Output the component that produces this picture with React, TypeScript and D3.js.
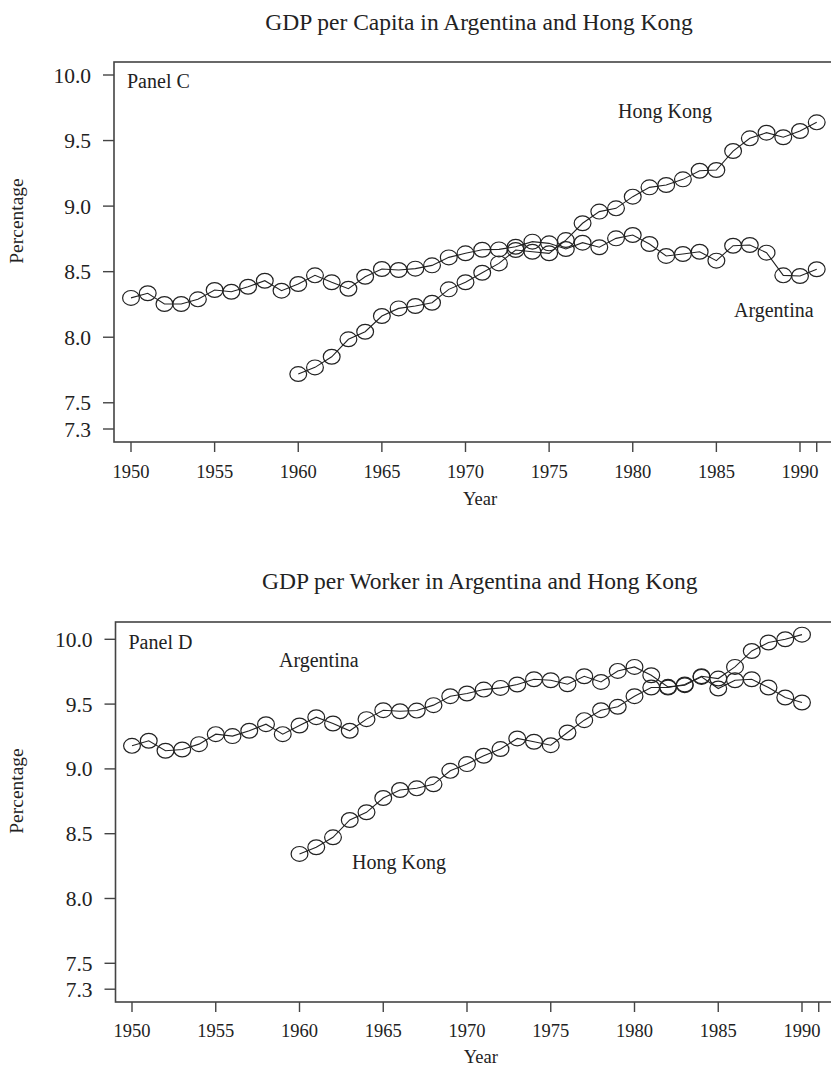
import React from "react";
import * as d3 from "d3";

// ---------- DATA ----------
const TITLE_C = "GDP per Capita in Argentina and Hong Kong";
const TITLE_D = "GDP per Worker in Argentina and Hong Kong";

const ARG_START = 1950;
const HK_START = 1960;

// Panel C: log GDP per capita
const argCapita = [
  8.30, 8.335, 8.253, 8.253, 8.289, 8.36, 8.347, 8.385, 8.431, 8.355,
  8.406, 8.472, 8.419, 8.37, 8.461, 8.52, 8.513, 8.523, 8.548, 8.609,
  8.64, 8.667, 8.67, 8.69, 8.729, 8.716, 8.673, 8.721, 8.686, 8.754,
  8.78, 8.711, 8.62, 8.635, 8.652, 8.584, 8.698, 8.703, 8.645, 8.472,
  8.467, 8.518,
];
const hkCapita = [
  7.719, 7.77, 7.851, 7.984, 8.042, 8.162, 8.22, 8.238, 8.263, 8.365,
  8.419, 8.492, 8.563, 8.665, 8.652, 8.64, 8.741, 8.869, 8.958, 8.983,
  9.072, 9.143, 9.161, 9.204, 9.27, 9.275, 9.42, 9.517, 9.56, 9.525,
  9.573, 9.639,
];

// Panel D: log GDP per worker
const argWorker = [
  9.178, 9.217, 9.14, 9.15, 9.191, 9.268, 9.253, 9.294, 9.345, 9.268,
  9.335, 9.399, 9.35, 9.294, 9.384, 9.453, 9.445, 9.45, 9.492, 9.561,
  9.582, 9.612, 9.625, 9.651, 9.692, 9.684, 9.653, 9.715, 9.671, 9.756,
  9.787, 9.723, 9.633, 9.646, 9.71, 9.62, 9.684, 9.692, 9.628, 9.551,
  9.512,
];
const hkWorker = [
  8.344, 8.395, 8.472, 8.606, 8.665, 8.775, 8.837, 8.85, 8.881, 8.985,
  9.037, 9.101, 9.153, 9.235, 9.209, 9.183, 9.281, 9.376, 9.453, 9.479,
  9.561, 9.628, 9.628, 9.651, 9.715, 9.697, 9.787, 9.91, 9.975, 10.0,
  10.036,
];

const xTicks = [1950, 1955, 1960, 1965, 1970, 1975, 1980, 1985, 1990, 1991];
const xTickLabels = ["1950", "1955", "1960", "1965", "1970", "1975", "1980", "1985", "1990", ""];
const yTicks = [7.3, 7.5, 8.0, 8.5, 9.0, 9.5, 10.0];
const yTickLabels = ["7.3", "7.5", "8.0", "8.5", "9.0", "9.5", "10.0"];

const FONT = "'Liberation Serif', 'Times New Roman', serif";
const INK = "#222";

type Label = { text: string; x: number; y: number };

type PanelProps = {
  title: string;
  titleY: number;
  box: { left: number; top: number; right: number; bottom: number };
  xRange: [number, number];
  yRange: [number, number];
  series: { start: number; values: number[] }[];
  panelLabel: Label;
  labels: Label[];
  percentageY: number;
  tickLabelDy: number;
  yearY: number;
};

function Panel(p: PanelProps) {
  const x = d3.scaleLinear().domain([1950, 1990]).range(p.xRange);
  const y = d3.scaleLinear().domain([7.3, 10]).range(p.yRange);
  const line = d3
    .line<[number, number]>()
    .x((d) => x(d[0]))
    .y((d) => y(d[1]));
  const { left, top, right, bottom } = p.box;
  const cx = (left + right) / 2;
  return (
    <g>
      <text x={cx - 1} y={p.titleY} textAnchor="middle" fontSize={23.5} fill={INK} fontFamily={FONT}>
        {p.title}
      </text>
      <rect x={left} y={top} width={right - left} height={bottom - top} fill="none" stroke="#444" strokeWidth={1.6} />
      {yTicks.map((t, i) => (
        <g key={"y" + i}>
          <line x1={left - 11} x2={left} y1={y(t)} y2={y(t)} stroke="#444" strokeWidth={1.4} />
          <text x={left - 23} y={y(t)} dy="0.35em" textAnchor="end" fontSize={21.5} fill={INK} fontFamily={FONT}>
            {yTickLabels[i]}
          </text>
        </g>
      ))}
      {xTicks.map((t, i) => (
        <g key={"x" + i}>
          <line x1={x(t)} x2={x(t)} y1={bottom} y2={bottom + 10} stroke="#444" strokeWidth={1.4} />
          {xTickLabels[i] && (
            <text x={x(t)} y={bottom + p.tickLabelDy} textAnchor="middle" fontSize={18.5} fill={INK} fontFamily={FONT}>
              {xTickLabels[i]}
            </text>
          )}
        </g>
      ))}
      <text x={cx} y={p.yearY} textAnchor="middle" fontSize={18.5} fill={INK} fontFamily={FONT}>
        Year
      </text>
      <text
        transform={`translate(23,${p.percentageY}) rotate(-90)`}
        textAnchor="middle"
        fontSize={19.5}
        fill={INK}
        fontFamily={FONT}
      >
        Percentage
      </text>
      {p.series.map((s, si) => {
        const pts: [number, number][] = s.values.map((v, i) => [s.start + i, v]);
        return (
          <g key={"s" + si}>
            <path d={line(pts) || ""} fill="none" stroke={INK} strokeWidth={1.1} />
            {pts.map((d, i) => (
              <ellipse key={i} cx={x(d[0])} cy={y(d[1])} rx={8.4} ry={7.4} fill="none" stroke={INK} strokeWidth={1.2} />
            ))}
          </g>
        );
      })}
      <text x={p.panelLabel.x} y={p.panelLabel.y} fontSize={20} fill={INK} fontFamily={FONT}>
        {p.panelLabel.text}
      </text>
      {p.labels.map((l, i) => (
        <text key={"l" + i} x={l.x} y={l.y} fontSize={20} fill={INK} fontFamily={FONT}>
          {l.text}
        </text>
      ))}
    </g>
  );
}

export default function App() {
  return (
    <svg
      width={831}
      height={1066}
      style={{ position: "absolute", left: 0, top: 0, background: "#fff" }}
    >
      <rect x={0} y={0} width={831} height={1066} fill="#fff" />
      <Panel
        title={TITLE_C}
        titleY={30}
        box={{ left: 114, top: 62, right: 846, bottom: 442 }}
        xRange={[131, 800]}
        yRange={[429, 75]}
        series={[
          { start: ARG_START, values: argCapita },
          { start: HK_START, values: hkCapita },
        ]}
        panelLabel={{ text: "Panel C", x: 127, y: 88 }}
        labels={[
          { text: "Hong Kong", x: 618, y: 118 },
          { text: "Argentina", x: 734, y: 317 },
        ]}
        percentageY={221}
        tickLabelDy={36}
        yearY={505}
      />
      <Panel
        title={TITLE_D}
        titleY={589}
        box={{ left: 115.5, top: 622, right: 846, bottom: 1002 }}
        xRange={[132, 802]}
        yRange={[989.2, 639.3]}
        series={[
          { start: ARG_START, values: argWorker },
          { start: HK_START, values: hkWorker },
        ]}
        panelLabel={{ text: "Panel D", x: 128.5, y: 649 }}
        labels={[
          { text: "Argentina", x: 279, y: 667 },
          { text: "Hong Kong", x: 352, y: 869 },
        ]}
        percentageY={791}
        tickLabelDy={35}
        yearY={1063}
      />
    </svg>
  );
}
